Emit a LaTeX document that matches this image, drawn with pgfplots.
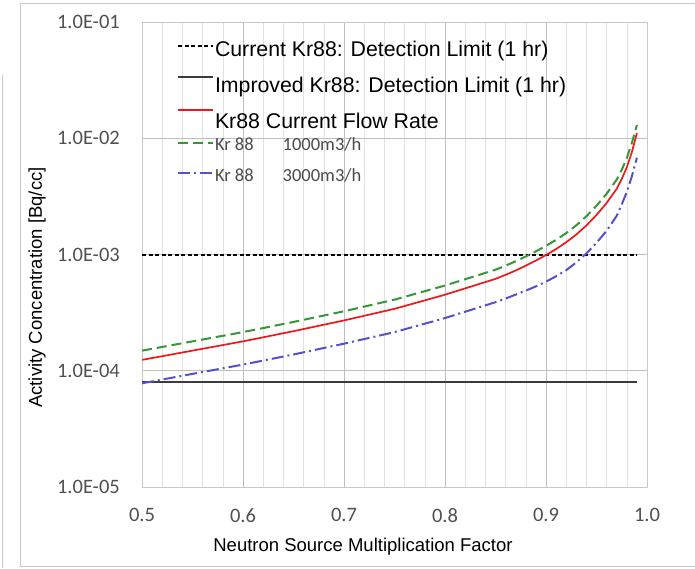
\documentclass[border=0pt]{standalone}
\usepackage{fontspec}
\usepackage{pgfplots}
\pgfplotsset{compat=1.18}
\usepackage{pgfplotstable}
\setmainfont{Liberation Sans}
\newfontfamily\arial{Liberation Sans}
\newfontfamily\calibri{Carlito}
\definecolor{tickgray}{RGB}{80,80,80}
\definecolor{gridmaj}{RGB}{190,190,190}
\definecolor{gridmin}{RGB}{226,226,226}
\definecolor{framegray}{RGB}{200,200,200}
\definecolor{cred}{RGB}{235,25,25}
\definecolor{cgreen}{RGB}{55,150,55}
\definecolor{cblue}{RGB}{85,80,205}
\definecolor{cdark}{RGB}{60,60,60}
\definecolor{legtxt}{RGB}{75,75,75}

\pgfplotstableread{
x      red        green      blue
0.50   1.240e-4   1.490e-4   7.80e-5
0.55   1.490e-4   1.790e-4   9.40e-5
0.60   1.790e-4   2.150e-4   1.13e-4
0.65   2.190e-4   2.630e-4   1.38e-4
0.70   2.710e-4   3.250e-4   1.71e-4
0.75   3.410e-4   4.090e-4   2.15e-4
0.80   4.510e-4   5.410e-4   2.84e-4
0.85   6.170e-4   7.400e-4   3.89e-4
0.86   6.680e-4   8.020e-4   4.18e-4
0.87   7.290e-4   8.750e-4   4.52e-4
0.88   8.020e-4   9.620e-4   4.89e-4
0.89   8.870e-4   1.064e-3   5.32e-4
0.90   9.890e-4   1.187e-3   5.84e-4
0.91   1.114e-3   1.337e-3   6.50e-4
0.92   1.274e-3   1.529e-3   7.33e-4
0.93   1.486e-3   1.783e-3   8.55e-4
0.94   1.778e-3   2.134e-3   1.022e-3
0.95   2.188e-3   2.626e-3   1.26e-3
0.96   2.773e-3   3.328e-3   1.60e-3
0.97   3.673e-3   4.408e-3   2.15e-3
0.975  4.467e-3   5.360e-3   2.70e-3
0.98   5.623e-3   6.750e-3   3.45e-3
0.985  7.586e-3   9.100e-3   4.70e-3
0.99   1.109e-2   1.300e-2   6.80e-3
}\curves

\pgfplotstableread{
x     y
0.50  1.0e-3
0.99  1.0e-3
}\limcurrent

\pgfplotstableread{
x     y
0.50  8.0e-5
0.99  8.0e-5
}\limimproved

\pgfplotsset{
  myleg/.style={legend image code/.code={%
    \draw[##1] (0pt,#1) -- (35pt,#1);
    \path[draw=none,fill=none] (0pt,-#1) -- (35pt,-#1);}},
}

\begin{document}
\begin{tikzpicture}
\useasboundingbox (0pt,0pt) rectangle (695pt,568pt);
% outer frame fragments
\draw[framegray, line width=0.8pt] (695pt,565pt) -- (20.5pt,565pt) -- (20.5pt,1.5pt) -- (695pt,1.5pt);
\draw[framegray, line width=0.8pt] (2.5pt,493pt) -- (2.5pt,0pt);
\begin{axis}[
  at={(142pt,81pt)}, anchor=south west,
  scale only axis, width=505pt, height=465pt,
  ymode=log,
  xmin=0.5, xmax=1.0, ymin=1e-5, ymax=1e-1,
  xtick={0.5,0.6,0.7,0.8,0.9,1.0},
  xticklabels={0.5,0.6,0.7,0.8,0.9,1.0},
  minor x tick num=4,
  ytick={1e-5,1e-4,1e-3,1e-2,1e-1},
  yticklabels={1.0E-05,1.0E-04,1.0E-03,1.0E-02,1.0E-01},
  log basis y=10,
  grid=both,
  major grid style={gridmaj, line width=0.6pt},
  minor grid style={gridmin, line width=0.6pt},
  axis line style={framegray, line width=0.6pt},
  major tick length=0pt, minor tick length=0pt,
  tick style={draw=none},
  tick label style={font=\calibri\fontsize{20.5}{20.5}\selectfont, text=tickgray},
  yticklabel style={anchor=east, inner sep=0pt, xshift=-22pt},
  xticklabel style={anchor=north, inner sep=0pt, yshift=-21pt},
  xlabel={Neutron Source Multiplication Factor},
  ylabel={Activity Concentration [Bq/cc]},
  label style={font=\arial\fontsize{18.5}{18.5}\selectfont},
  xlabel style={at={(axis description cs:0.4376,-0.1097)}, anchor=north, inner sep=0pt},
  ylabel style={at={(axis description cs:-0.2079,0.429)}, anchor=center, inner sep=0pt},
  legend cell align=left,
  legend style={at={(axis description cs:0.0693,0.9613)}, anchor=north west,
    draw=none, fill=none, inner sep=0pt, outer sep=0pt,
    nodes={inner sep=0pt, outer sep=0pt}, row sep=0pt, column sep=1pt},
  clip=true,
]
\addplot[black, line width=2pt, dash pattern=on 4pt off 2.5pt, myleg=2.5pt] table[x=x,y=y] {\limcurrent};
\addlegendentry{\arial\fontsize{21.3}{21.3}\selectfont\rule[-5pt]{0pt}{21pt}Current Kr88: Detection Limit (1 hr)}
\addplot[cdark, line width=2pt, myleg=-1pt] table[x=x,y=y] {\limimproved};
\addlegendentry{\arial\fontsize{21.3}{21.3}\selectfont\rule[-5pt]{0pt}{40pt}Improved Kr88: Detection Limit (1 hr)}
\addplot[cred, line width=1.7pt, myleg=1.5pt] table[x=x,y=red] {\curves};
\addlegendentry{\arial\fontsize{21.3}{21.3}\selectfont\rule[-3pt]{0pt}{37pt}Kr88 Current Flow Rate}
\addplot[cgreen, line width=2pt, dash pattern=on 10pt off 5pt, myleg=-2.5pt] table[x=x,y=green] {\curves};
\addlegendentry{\calibri\fontsize{18.5}{18.5}\selectfont\color{legtxt}\rule[-4pt]{0pt}{25pt}Kr 88\hspace{29pt}1000m3/h}
\addplot[cblue, line width=2pt, dash pattern=on 12pt off 4pt on 2pt off 4pt, myleg=-6pt] table[x=x,y=blue] {\curves};
\addlegendentry{\calibri\fontsize{18.5}{18.5}\selectfont\color{legtxt}\rule[-5pt]{0pt}{34pt}Kr 88\hspace{29pt}3000m3/h}
\end{axis}
\end{tikzpicture}
\end{document}
